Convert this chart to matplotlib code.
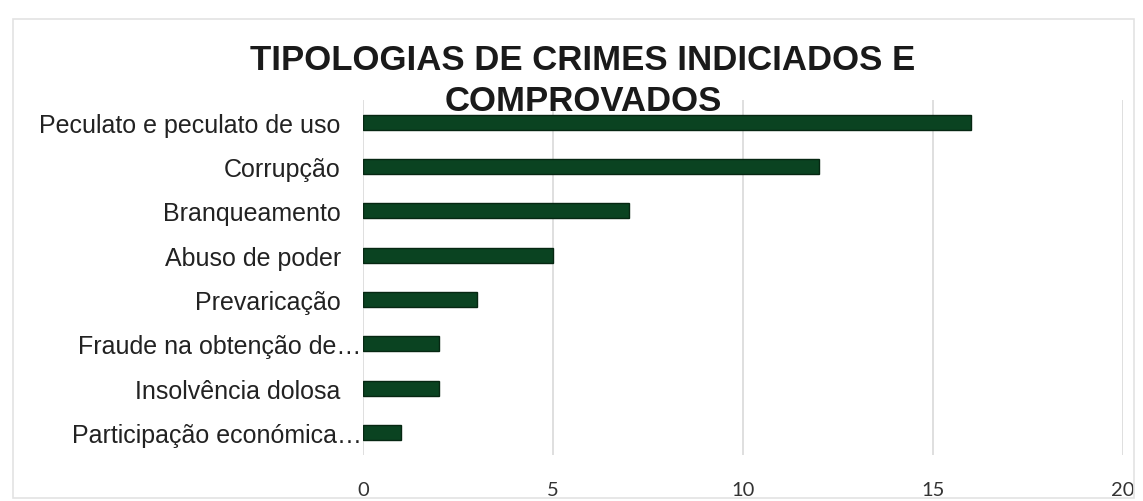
import matplotlib.pyplot as plt
from matplotlib.patches import Rectangle
from matplotlib.transforms import ScaledTranslation

categories = ['Peculato e peculato de uso', 'Corrupção', 'Branqueamento',
              'Abuso de poder', 'Prevaricação', 'Fraude na obtenção de…',
              'Insolvência dolosa', 'Participação económica…']
values = [16, 12, 7, 5, 3, 2, 2, 1]
xticks = [0, 5, 10, 15, 20]

fig = plt.figure(figsize=(11.43, 5.02), dpi=100)
ax = fig.add_axes([0.3176, 0.092, 0.665, 0.707])

y = list(range(len(categories)))[::-1]
ax.barh(y, values, height=0.34, color='#0a4321', edgecolor='#062712', linewidth=1.0, zorder=3)

ax.set_xlim(0, 20)
ax.set_ylim(-0.5, len(categories) - 0.5)
ax.set_xticks(xticks)
ax.set_xticklabels([str(t) for t in xticks], fontfamily='Lato', fontsize=14.5, color='#333333')
ax.set_yticks(y)
ax.set_yticklabels(categories, fontfamily='Liberation Sans', fontsize=18, color='#222222')
ax.tick_params(axis='x', length=0, pad=19)
ax.tick_params(axis='y', length=0, pad=16)
ax.grid(axis='x', color='#d9d9d9', linewidth=1.2, zorder=0)
for s in ax.spines.values():
    s.set_visible(False)

# truncated labels run right up to the bars, like in the original
shift = ScaledTranslation(15 / 72, 0, fig.dpi_scale_trans)
for lbl in ax.get_yticklabels():
    if lbl.get_text().endswith('…'):
        lbl.set_transform(lbl.get_transform() + shift)

fig.text(0.51, 0.838, 'TIPOLOGIAS DE CRIMES INDICIADOS E\nCOMPROVADOS',
         ha='center', va='center', fontfamily='Liberation Sans', fontweight='bold',
         fontsize=25, color='#1a1a1a', linespacing=1.3)

# faint frame around the chart area
fig.patches.append(Rectangle((0.011, 0.006), 0.981, 0.954, transform=fig.transFigure,
                             fill=False, edgecolor='#e3e3e3', linewidth=1.2))

fig.savefig('out.png', dpi=100, facecolor='white')
